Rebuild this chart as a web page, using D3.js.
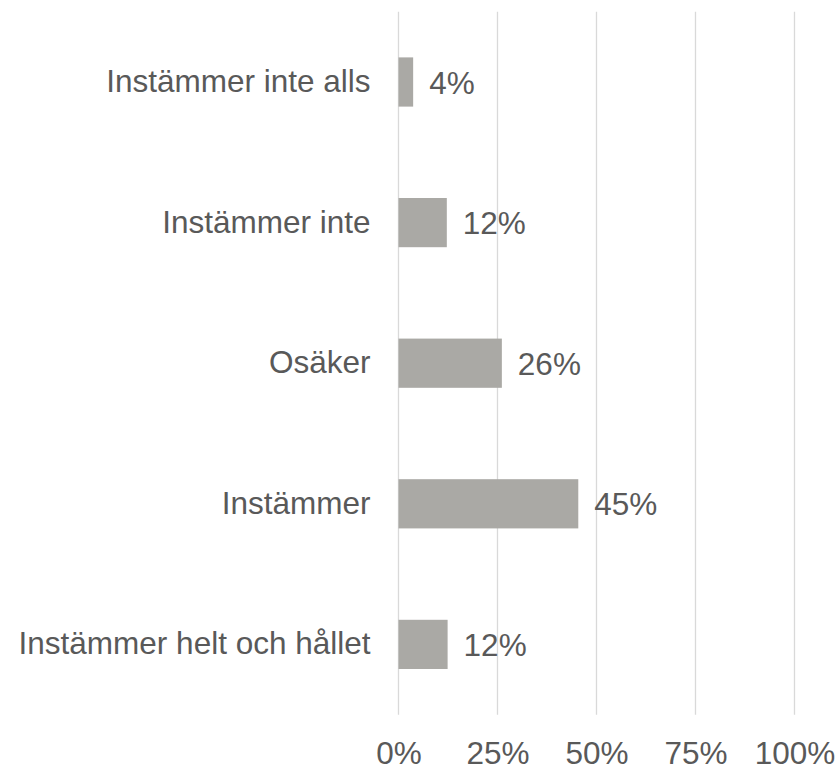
<!DOCTYPE html>
<html>
<head>
<meta charset="utf-8">
<script src="https://cdn.jsdelivr.net/npm/d3@7"></script>
<style>
  body { margin: 0; background: #fff; }
  text { font-family: "Liberation Sans", Arial, sans-serif; fill: #595959; }
</style>
</head>
<body>
<svg class="chart-svg" width="838" height="767"></svg>
<script>
// answers, top to bottom
const categories = [
  "Instämmer inte alls",
  "Instämmer inte",
  "Osäker",
  "Instämmer",
  "Instämmer helt och hållet"
];
const values = [3.7, 12.2, 26.1, 45.4, 12.4];
const ticks = [0, 25, 50, 75, 100];

const w = 838;
const h = 767;
const xLeft = 398.5, xRight = 794.5;
const yTop = 11.7, yBottom = 714.7;
const fs = "31.5px";

const data = categories.map((c, i) => ({ cat: c, val: values[i] }));

const xScale = d3.scaleLinear()
                .domain([0, 100])
                .range([xLeft, xRight]);

const yScale = d3.scaleBand()
                .domain(categories)
                .range([yTop, yBottom])
                .paddingInner(0.65)
                .paddingOuter(0.325);

const svg = d3.select(".chart-svg");

// vertical gridlines
svg.append("g")
   .selectAll("line")
   .data(ticks)
   .enter()
   .append("line")
   .attr("x1", d => xScale(d))
   .attr("x2", d => xScale(d))
   .attr("y1", yTop)
   .attr("y2", yBottom)
   .attr("stroke", "#d9d9d9")
   .attr("stroke-width", 1.3);

svg.append("g")
   .selectAll("rect")
   .data(data)
   .enter()
   .append("rect")
   .attr("x", xScale(0))
   .attr("y", d => yScale(d.cat))
   .attr("width", d => xScale(d.val) - xScale(0))
   .attr("height", yScale.bandwidth())
   .attr("fill", "#aaa9a5");

// value labels
svg.append("g")
   .selectAll("text")
   .data(data)
   .enter()
   .append("text")
   .attr("x", d => xScale(d.val) + 16)
   .attr("y", d => yScale(d.cat) + yScale.bandwidth() / 2)
   .attr("dy", "0.37em")
   .style("font-size", fs)
   .text(d => d3.format(".0f")(d.val) + "%");

// category labels
const yAxis = d3.axisLeft(yScale).tickSize(0).tickPadding(28);
svg.append("g")
   .attr("transform", "translate(" + xLeft + ",0)")
   .call(yAxis)
   .call(g => g.select(".domain").remove())
   .call(g => g.selectAll("text")
      .attr("fill", null)
      .style("font-size", fs)
      .style("font-family", "'Liberation Sans', Arial, sans-serif"));

// x tick labels, sitting right at the bottom edge like the original
const xAxis = d3.axisBottom(xScale).tickValues(ticks).tickSize(0).tickPadding(0)
                .tickFormat(d => d + "%");
svg.append("g")
   .attr("transform", "translate(0,764)")
   .call(xAxis)
   .call(g => g.select(".domain").remove())
   .call(g => g.selectAll("text")
      .attr("fill", null)
      .attr("dy", "0")
      .style("font-size", fs)
      .style("font-family", "'Liberation Sans', Arial, sans-serif"));
</script>
</body>
</html>
